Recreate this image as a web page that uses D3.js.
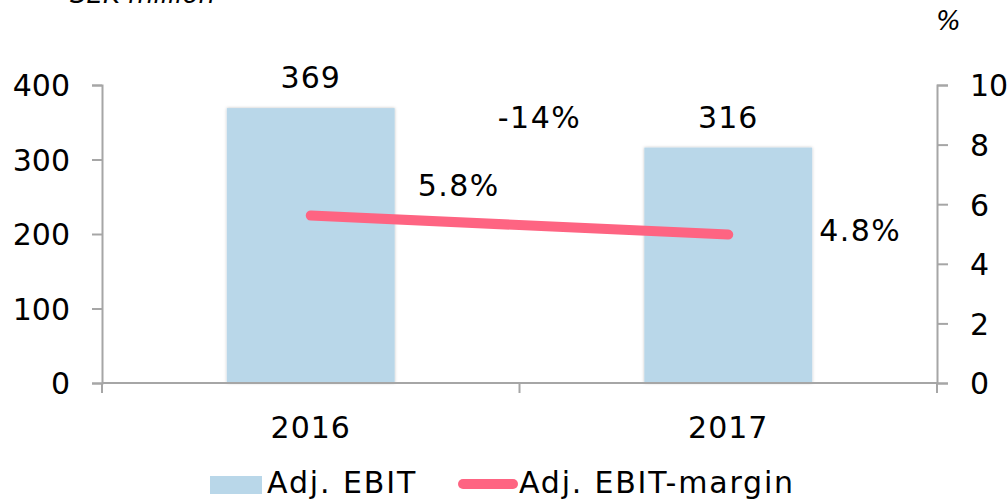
<!DOCTYPE html>
<html>
<head>
<meta charset="utf-8">
<script src="https://cdn.jsdelivr.net/npm/d3@7"></script>
<style>
  body { margin: 0; background: #fff; }
  text { font-family: "DejaVu Sans", Verdana, sans-serif; fill: #000; }
</style>
</head>
<body>
<svg id="chart" width="1007" height="500"></svg>
<script>
// data
const years = ["2016", "2017"];
const ebit = [369, 316];
const margin = [5.62, 4.98];           // as plotted
const marginLabels = ["5.8%", "4.8%"]; // as printed
const changeLabel = "-14%";
const leftTicks = [0, 100, 200, 300, 400];
const rightTicks = [0, 2, 4, 6, 8, 10];

const barColor = "#b9d7e9";
const lineColor = "#fe6482";
const axisColor = "#a6a6a6";

let dimensions = (svg, m) =>
    ({width: +svg.attr("width"), height: +svg.attr("height"), margin: m,
      innerWidth: +svg.attr("width") - m.left - m.right,
      innerHeight: +svg.attr("height") - m.top - m.bottom});

const svg = d3.select("#chart");
const dim = dimensions(svg, {top: 85, left: 102, right: 70, bottom: 117});

const g = svg.append("g")
    .attr("transform", `translate(${dim.margin.left}, ${dim.margin.top})`);

const x = d3.scaleBand().domain(years).range([0, dim.innerWidth]).padding(0);
const y = d3.scaleLinear().domain([0, 400]).range([dim.innerHeight, 0]);
const y2 = d3.scaleLinear().domain([0, 10]).range([dim.innerHeight, 0]);
const barW = x.bandwidth() * 0.402;

const defs = svg.append("defs");
defs.append("filter").attr("id", "shadow")
    .attr("x", "-10%").attr("y", "-10%").attr("width", "120%").attr("height", "120%")
    .append("feDropShadow")
    .attr("dx", 0).attr("dy", 0).attr("stdDeviation", 1.5)
    .attr("flood-color", "#000").attr("flood-opacity", 0.25);

// bars
g.selectAll("rect.bar").data(years)
    .enter().append("rect")
    .attr("class", "bar")
    .attr("x", d => x(d) + (x.bandwidth() - barW) / 2)
    .attr("y", (d, i) => y(ebit[i]))
    .attr("width", barW)
    .attr("height", (d, i) => dim.innerHeight - y(ebit[i]))
    .attr("fill", barColor)
    .attr("filter", "url(#shadow)");

// axes
const fontSize = 30;
const styleAxis = sel => {
    sel.selectAll("path, line").attr("stroke", axisColor).attr("stroke-width", 2);
    sel.selectAll("text").attr("font-size", fontSize).attr("fill", "#000")
        .attr("font-family", "'DejaVu Sans', Verdana, sans-serif");
};

g.append("g")
    .call(d3.axisLeft(y).tickValues(leftTicks).tickSize(10).tickSizeOuter(10).tickPadding(22))
    .call(styleAxis)
    .selectAll("text").attr("dy", "0.36em");

g.append("g")
    .attr("transform", `translate(${dim.innerWidth}, 0)`)
    .call(d3.axisRight(y2).tickValues(rightTicks).tickSize(11).tickSizeOuter(11).tickPadding(22))
    .call(styleAxis)
    .selectAll("text").attr("dy", "0.36em");

// category axis: ticks at band edges, labels at band centres
const xAxisG = g.append("g").attr("transform", `translate(0, ${dim.innerHeight})`);
xAxisG.append("line")
    .attr("x1", 0).attr("x2", dim.innerWidth)
    .attr("stroke", axisColor).attr("stroke-width", 2);
const edges = years.map(d => x(d)).concat([x.range()[1]]);
xAxisG.selectAll("line.tick").data(edges)
    .enter().append("line")
    .attr("class", "tick")
    .attr("x1", d => d).attr("x2", d => d)
    .attr("y1", 0).attr("y2", 10)
    .attr("stroke", axisColor).attr("stroke-width", 2);
xAxisG.selectAll("text").data(years)
    .enter().append("text")
    .attr("x", d => x(d) + x.bandwidth() / 2)
    .attr("y", 55)
    .attr("text-anchor", "middle")
    .attr("font-size", fontSize)
    .attr("letter-spacing", 1)
    .text(d => d);

// margin line
const line = d3.line()
    .x(d => x(d) + x.bandwidth() / 2)
    .y((d, i) => y2(margin[i]));
g.append("path")
    .attr("d", line(years))
    .attr("fill", "none")
    .attr("stroke", lineColor)
    .attr("stroke-width", 10)
    .attr("stroke-linecap", "round");

// bar value labels
g.selectAll("text.val").data(years)
    .enter().append("text")
    .attr("class", "val")
    .attr("x", d => x(d) + x.bandwidth() / 2)
    .attr("y", (d, i) => y(ebit[i]) - 20)
    .attr("text-anchor", "middle")
    .attr("font-size", fontSize)
    .attr("letter-spacing", 1)
    .text((d, i) => ebit[i]);

// margin labels
const marginOffsets = [[148, -20], [132, 6]];
g.selectAll("text.mlab").data(years)
    .enter().append("text")
    .attr("class", "mlab")
    .attr("x", (d, i) => x(d) + x.bandwidth() / 2 + marginOffsets[i][0])
    .attr("y", (d, i) => y2(margin[i]) + marginOffsets[i][1])
    .attr("text-anchor", "middle")
    .attr("font-size", fontSize)
    .attr("letter-spacing", 1.5)
    .text((d, i) => marginLabels[i]);

// change label
g.append("text")
    .attr("x", x.range()[1] / 2 + 20)
    .attr("y", y(ebit[1]) - 20)
    .attr("text-anchor", "middle")
    .attr("font-size", fontSize)
    .attr("letter-spacing", 1.5)
    .text(changeLabel);

// axis titles
svg.append("text")
    .attr("x", 70).attr("y", 3)
    .attr("font-size", 26).attr("font-style", "italic")
    .text("SEK million");
svg.append("text")
    .attr("x", 936).attr("y", 30)
    .attr("font-size", 26).attr("font-style", "italic")
    .text("%");

// legend
const leg = svg.append("g").attr("transform", "translate(0, 493)");
leg.append("rect")
    .attr("x", 210).attr("y", -17).attr("width", 52).attr("height", 18)
    .attr("fill", barColor);
leg.append("text").attr("x", 267).attr("y", 0)
    .attr("font-size", fontSize).attr("letter-spacing", 1.9).text("Adj. EBIT");
leg.append("line")
    .attr("x1", 463).attr("x2", 513).attr("y1", -9).attr("y2", -9)
    .attr("stroke", lineColor).attr("stroke-width", 10)
    .attr("stroke-linecap", "round");
leg.append("text").attr("x", 519).attr("y", 0)
    .attr("font-size", fontSize).attr("letter-spacing", 1.8).text("Adj. EBIT-margin");
</script>
</body>
</html>
